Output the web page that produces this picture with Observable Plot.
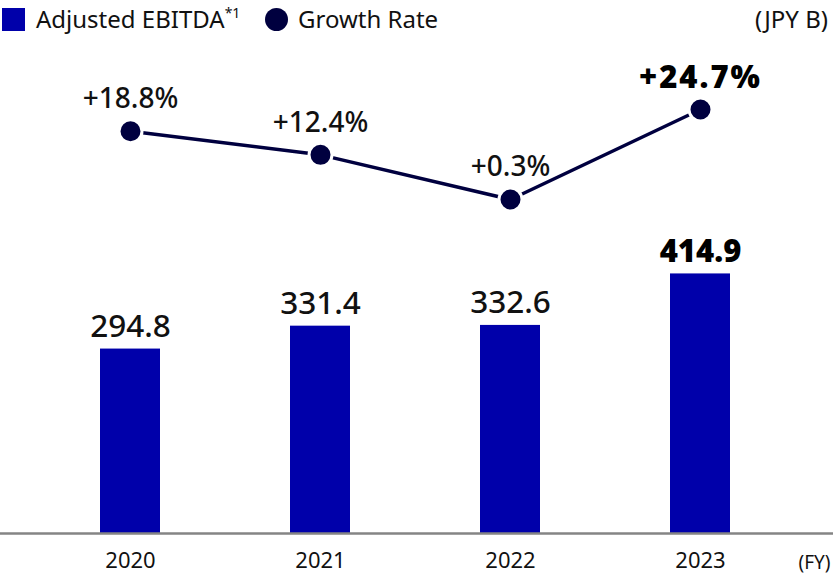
<!DOCTYPE html>
<html>
<head>
<meta charset="utf-8">
<script src="https://cdn.jsdelivr.net/npm/d3@7"></script>
<script src="https://cdn.jsdelivr.net/npm/@observablehq/plot@0.6"></script>
<style>
  body { margin: 0; background: #fff; font-family: "Noto Sans", sans-serif; color: #111; }
  #legend { position: relative; width: 833px; height: 40px; font-size: 24px; line-height: 38px; }
  #legend .sw { position: absolute; top: 8px; width: 23px; height: 23px; }
  #legend .lab { position: absolute; top: 0; white-space: nowrap; }
  #chart { position: relative; width: 833px; height: 538px; }
  #chart svg { position: absolute; left: 0; top: 0; }
</style>
</head>
<body>
<div id="legend">
  <div class="sw" style="left:2px;background:#0000aa;"></div>
  <div class="lab" style="left:36px;">Adjusted EBITDA<sup style="font-size:14px;vertical-align:0;position:relative;top:-10px;">*1</sup></div>
  <div class="sw" style="left:265px;background:#00003f;border-radius:50%;"></div>
  <div class="lab" style="left:298px;">Growth Rate</div>
  <div class="lab" style="right:5px;">(JPY B)</div>
</div>
<div id="chart"></div>
<script>
const years = ["2020", "2021", "2022", "2023"];
const ebitda = [294.8, 331.4, 332.6, 414.9];
const growth = [18.8, 12.4, 0.3, 24.7];
const highlightYear = "2023";

const rows = years.map((year, i) => ({ year, ebitda: ebitda[i], growth: growth[i] }));
const fmtPct = v => (v >= 0 ? "+" : "") + v.toFixed(1) + "%";

const W = 833, H = 538;
const xScale = {
  type: "band",
  domain: years,
  paddingInner: 0.682,
  paddingOuter: 0.53,
  align: 0.496
};
const common = {
  width: W, height: H,
  marginLeft: 0, marginRight: 0, marginTop: 0, marginBottom: 45,
  style: { fontFamily: "Noto Sans", background: "transparent", overflow: "visible" }
};

const bars = Plot.plot({
  ...common,
  x: xScale,
  y: { domain: [0, 788], axis: null },
  marks: [
    Plot.barY(rows, { x: "year", y: "ebitda", fill: "#0000aa" }),
    Plot.ruleY([0], { stroke: "#858585", strokeWidth: 2.5 }),
    Plot.axisX({ tickSize: 0, tickPadding: 19, fontSize: 22, fill: "#111", label: null }),
    Plot.text(rows.filter(d => d.year !== highlightYear), {
      x: "year", y: "ebitda", text: d => d.ebitda.toFixed(1),
      lineAnchor: "bottom", dy: -12, fontSize: 31.5, fontWeight: 500, fill: "#111"
    }),
    Plot.text(rows.filter(d => d.year === highlightYear), {
      x: "year", y: "ebitda", text: d => d.ebitda.toFixed(1),
      lineAnchor: "bottom", dy: -12, fontSize: 31, fontWeight: 900, fill: "#000"
    }),
    Plot.text(["(FY)"], {
      frameAnchor: "bottom-right", textAnchor: "end", lineAnchor: "bottom",
      dx: -3, dy: 35, fontSize: 19, fill: "#111"
    })
  ]
});

const line = Plot.plot({
  ...common,
  x: { ...xScale, axis: null },
  y: { domain: [-90.24, 43.4], axis: null },
  marks: [
    Plot.line(rows, { x: "year", y: "growth", stroke: "#00003f", strokeWidth: 3.5 }),
    Plot.dot(rows, { x: "year", y: "growth", r: 11.5, fill: "#00003f", stroke: "#fff", strokeWidth: 3 }),
    Plot.text(rows.filter(d => d.year !== highlightYear), {
      x: "year", y: "growth", text: d => fmtPct(d.growth),
      lineAnchor: "bottom", dy: -23, fontSize: 28, fontWeight: 500, fill: "#111",
      style: "letter-spacing:0.5px"
    }),
    Plot.text(rows.filter(d => d.year === highlightYear), {
      x: "year", y: "growth", text: d => fmtPct(d.growth),
      lineAnchor: "bottom", dy: -21, fontSize: 31, fontWeight: 900, fill: "#000"
    })
  ]
});

line.querySelectorAll("text").forEach(t => {
  if (t.textContent.startsWith("+24")) t.setAttribute("letter-spacing", "2px");
});

document.getElementById("chart").append(bars, line);
</script>
</body>
</html>
